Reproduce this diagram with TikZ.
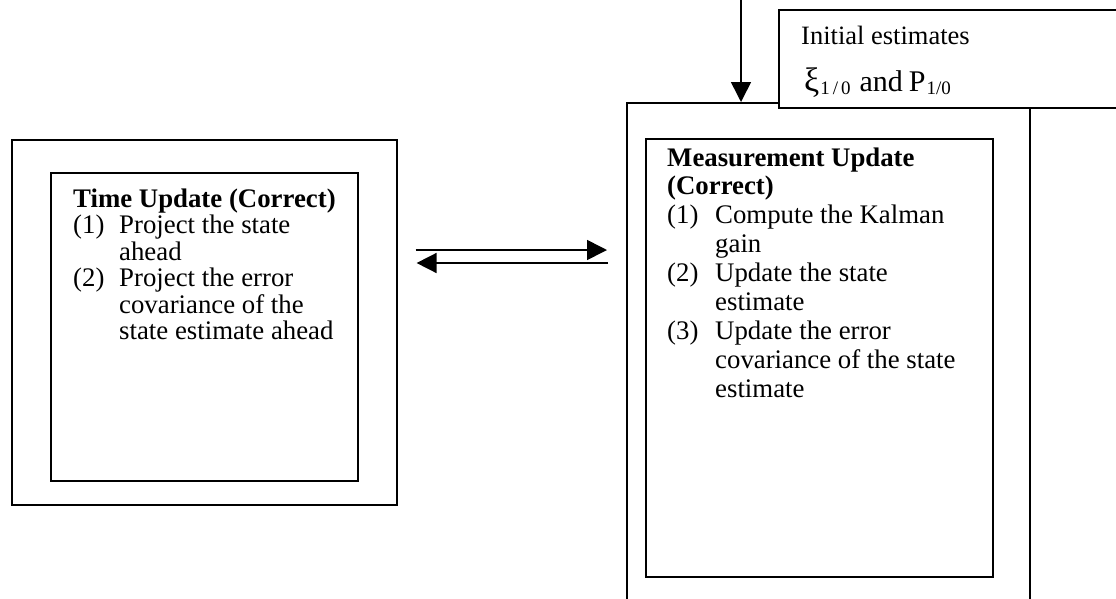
\documentclass[tikz,border=0pt]{standalone}
\usepackage{fontspec}
\setmainfont{Liberation Serif}
\usepackage{array}
\usetikzlibrary{arrows.meta}
\begin{document}
\begin{tikzpicture}[x=1pt,y=-1pt,
  frame/.style={draw, line width=1.6pt, rectangle, inner sep=0pt, anchor=north west},
  flow/.style={line width=1.6pt, -{Triangle[length=20pt,width=20pt]}},
  body/.style={anchor=base west, inner sep=0pt, font=\fontsize{26.8}{30.5}\selectfont}]
\useasboundingbox (0,0) rectangle (1116,598);
\clip (0,0) rectangle (1116,598);

% time update: outer and inner frames
\node[frame, minimum width=385, minimum height=365] (tuo) at (11,139) {};
\node[frame, minimum width=307, minimum height=308] (tui) at (50,172) {};
\node[body, font=\fontsize{26.8}{26.4}\selectfont] (tut) at (73,207) {%
  \begin{tabular}[t]{@{}p{46pt}@{}l@{}}
  \multicolumn{2}{@{}l@{}}{\bfseries Time Update (Correct)}\\
  (1) & Project the state\\
      & ahead\\
  (2) & Project the error\\
      & covariance of the\\
      & state estimate ahead
  \end{tabular}};

% measurement update: outer frame runs past the lower edge
\node[frame, minimum width=403, minimum height=520] (muo) at (626,102) {};
\node[frame, minimum width=347, minimum height=438] (mui) at (645,138) {};
\node[body, font=\fontsize{26.8}{28.9}\selectfont] (mut) at (667,166) {%
  \begin{tabular}[t]{@{}p{48pt}@{}l@{}}
  \multicolumn{2}{@{}l@{}}{\bfseries Measurement Update}\\
  \multicolumn{2}{@{}l@{}}{\bfseries (Correct)}\\
  (1) & Compute the Kalman\\
      & gain\\
  (2) & Update the state\\
      & estimate\\
  (3) & Update the error\\
      & covariance of the state\\
      & estimate
  \end{tabular}};

% initial estimates, laid over the corner of the outer frame
\node[frame, fill=white, minimum width=360, minimum height=98] (ini) at (778,9) {};
\node[body, font=\fontsize{26.5}{30}\selectfont] (init1) at (801,44) {Initial estimates};
\node[anchor=base west, inner sep=0pt] (init2) at (804,91) {%
  {\fontsize{34}{34}\selectfont ξ}\kern1pt\raisebox{-3pt}{\fontsize{19}{19}\selectfont 1\kern3pt/\kern3pt0}%
  \kern9pt{\fontsize{30}{30}\selectfont and\kern6pt P}\kern1pt\raisebox{-3pt}{\fontsize{19}{19}\selectfont 1/0}};

% connectors
\coordinate (src) at (741,-5);
\draw[flow] (src) -- (src |- muo.north);
\draw[flow, shorten <=18pt, shorten >=19pt] (tuo.east |- 0,250) -- (muo.west |- 0,250);
\draw[flow, shorten <=18pt, shorten >=19pt] (muo.west |- 0,263) -- (tuo.east |- 0,263);
\end{tikzpicture}
\end{document}
